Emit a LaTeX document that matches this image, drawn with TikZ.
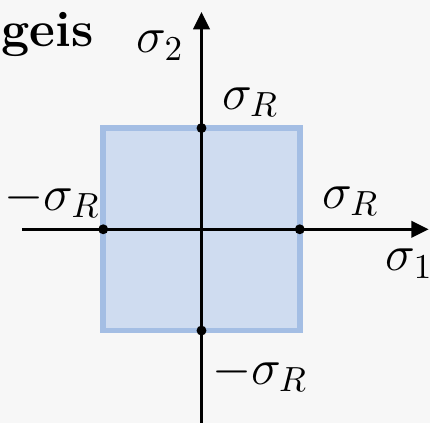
\documentclass[tikz,border=0pt]{standalone}
\usepackage{xcolor}
\usepackage{tikz}
\usetikzlibrary{arrows.meta}
\definecolor{bgG}{RGB}{247,247,247}
\definecolor{sqF}{RGB}{207,220,240}
\definecolor{sqE}{RGB}{164,190,228}

\begin{document}
\begin{tikzpicture}[
    ax/.style={line width=1pt, -{Triangle[length=5pt, width=4.6pt]}},
    sq/.style={draw=sqE, fill=sqF, line width=1.6pt, inner sep=0pt, outer sep=0pt},
    pt/.style={circle, fill=black, inner sep=0pt, minimum size=1mm},
    lbl/.style={inner sep=0pt, font=\Large}
  ]
  % background and frame
  \fill[bgG] (-2.03,-1.95) rectangle (2.30,2.31);

  % region
  \node[sq, minimum width=1.98cm, minimum height=2.04cm] (box) at (0,0) {};

  % axes
  \coordinate (xl) at (-1.81,0);
  \coordinate (xr) at (2.29,0);
  \coordinate (yb) at (0,-1.95);
  \coordinate (yt) at (0,2.19);
  \draw[ax] (xl) -- (xr);
  \draw[ax] (yb) -- (yt);

  % points on the axes
  \node[pt] (pW) at (box.west) {};
  \node[pt] (pE) at (box.east) {};
  \node[pt] (pN) at (box.north) {};
  \node[pt] (pS) at (box.south) {};

  % labels
  \node[lbl, anchor=base west, font=\Large\bfseries] (ttl) at (-2.02,1.84) {geis};
  \node[lbl, anchor=base east] (s2) at (-0.17,1.78) {$\sigma_2$};
  \node[lbl, anchor=base west] (s1) at (1.85,-0.42) {$\sigma_1$};
  \node[lbl, anchor=base west] (sN) at (0.20,1.21) {$\sigma_R$};
  \node[lbl, anchor=base west] (sE) at (1.21,0.21) {$\sigma_R$};
  \node[lbl, anchor=base west] (sW) at (-1.99,0.19) {$-\sigma_R$};
  \node[lbl, anchor=base west] (sS) at (0.10,-1.56) {$-\sigma_R$};
\end{tikzpicture}
\end{document}
